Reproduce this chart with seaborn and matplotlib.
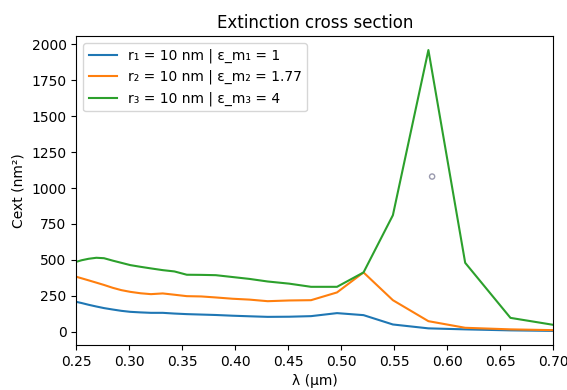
import numpy as np
import pandas as pd
import matplotlib
matplotlib.use("Agg")
import matplotlib.pyplot as plt
import seaborn as sns

# wavelengths (µm)
wavelength = [0.2490, 0.2551, 0.2616, 0.2689, 0.2761, 0.2844, 0.2924, 0.3009,
              0.3107, 0.3204, 0.3315, 0.3425, 0.3542, 0.3679, 0.3815, 0.3974,
              0.4133, 0.4305, 0.4508, 0.4714, 0.4959, 0.5209, 0.5486, 0.5821,
              0.6168, 0.6595, 0.7045]

cext_1 = [210, 200, 188, 176, 165, 155, 146, 139, 135, 132, 132, 127, 123, 120,
          117, 112, 108, 104, 105, 109, 130, 116, 51, 24, 17, 10, 6]
cext_2 = [385, 372, 358, 342, 326, 306, 290, 278, 268, 262, 267, 258, 248, 246,
          239, 230, 224, 213, 218, 220, 274, 413, 220, 74, 28, 17, 11]
cext_3 = [485, 498, 508, 515, 512, 495, 480, 464, 452, 441, 429, 420, 397, 396,
          394, 381, 368, 350, 335, 313, 313, 413, 811, 1960, 480, 97, 43]

labels = ["r₁ = 10 nm | ε_m₁ = 1",
          "r₂ = 10 nm | ε_m₂ = 1.77",
          "r₃ = 10 nm | ε_m₃ = 4"]

# stray marker visible in the screenshot
marker_x = [0.5856]
marker_y = [1080]

df = pd.DataFrame({
    "lam": wavelength * 3,
    "cext": cext_1 + cext_2 + cext_3,
    "case": [labels[0]] * len(wavelength) + [labels[1]] * len(wavelength)
            + [labels[2]] * len(wavelength),
})

fig = plt.figure(figsize=(5.67, 3.9), dpi=100)
ax = fig.add_axes([0.1346, 0.1154, 0.976 - 0.1346, 0.9077 - 0.1154])

sns.lineplot(data=df, x="lam", y="cext", hue="case", hue_order=labels,
             palette=["#1f77b4", "#ff7f0e", "#2ca02c"], lw=1.5, ax=ax,
             sort=False, estimator=None)
ax.scatter(marker_x, marker_y, s=14, facecolors="none", edgecolors="#9a9aae",
           linewidths=1.0, zorder=5)

ax.set_xlim(0.25, 0.70)
ax.set_xticks(np.arange(0.25, 0.701, 0.05))
ax.set_xticklabels([f"{t:.2f}" for t in np.arange(0.25, 0.701, 0.05)])
ax.set_yticks(np.arange(0, 2001, 250))
ax.set_title("Extinction cross section")
ax.set_xlabel("λ (μm)")
ax.set_ylabel("Cext (nm²)")
ax.legend(loc="upper left")

fig.savefig("out.png", dpi=100)
